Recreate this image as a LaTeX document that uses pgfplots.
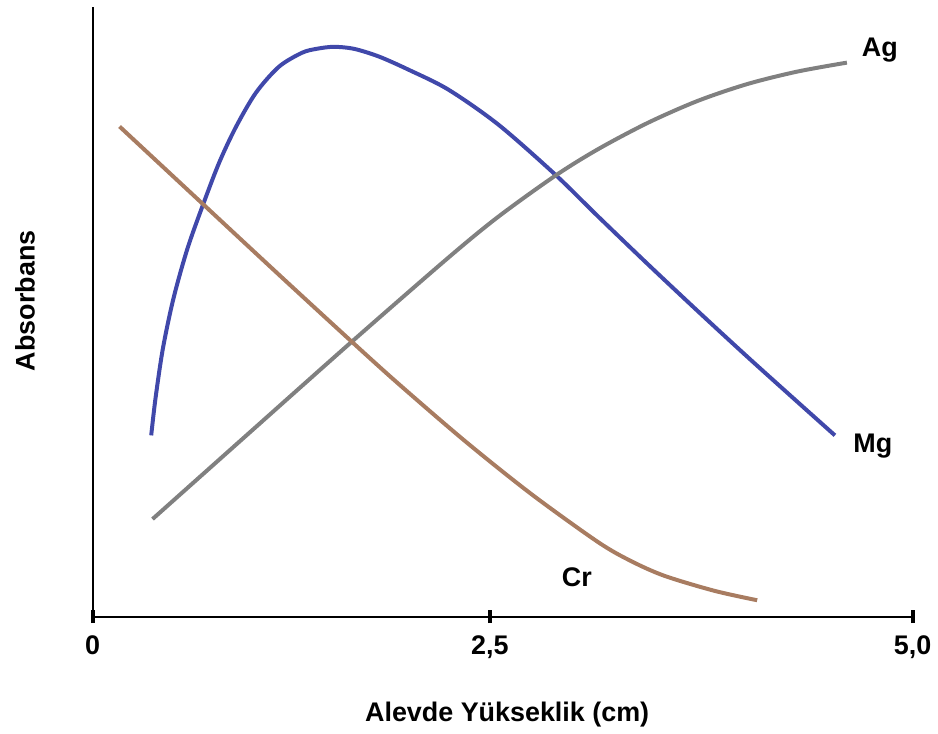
\documentclass[border=0pt]{standalone}
\usepackage{fontspec}
\setmainfont{Liberation Sans}
\usepackage{pgfplots}
\pgfplotsset{compat=1.18}
\definecolor{mgblue}{RGB}{64,72,170}
\definecolor{aggray}{RGB}{128,128,128}
\definecolor{crbrown}{RGB}{168,124,97}
\begin{document}
\begin{tikzpicture}
\begin{axis}[
 scale only axis, width=411.5pt, height=306pt,
 xmin=0, xmax=5, ymin=0, ymax=100,
 axis x line=bottom, axis y line=left,
 axis line style={-, line width=1.1pt, black},
 xtick={0,2.422,5}, xticklabels={0,{2,5},{5,0}},
 ytick=\empty,
 tick align=center, major tick length=6.5pt,
 xtick style={line width=2pt, black},
 /pgf/number format/assume math mode=true,
 xticklabel style={font=\fontsize{13.5}{15}\selectfont\bfseries, anchor=base, yshift=-15.9pt},
 xlabel={Alevde Yükseklik (cm)}, ylabel={Absorbans},
 label style={font=\fontsize{13.5}{15}\selectfont\bfseries},
 xlabel style={at={(rel axis cs:0.5055,-0.160)}, anchor=center},
 ylabel style={at={(rel axis cs:-0.0826,0.518)}, anchor=center},
 clip=false,
]
% Mg
\addplot[mgblue, line width=2pt, smooth, tension=0.5] coordinates {
(0.357,29.74) (0.383,35.78) (0.428,43.95) (0.492,52.12) (0.577,60.29) (0.674,67.65)
(0.772,74.51) (0.875,80.39) (0.996,85.95) (1.136,90.20) (1.276,92.48) (1.367,93.14)
(1.470,93.46) (1.592,93.14) (1.744,91.88) (1.926,89.71) (2.169,86.44) (2.473,80.72)
(2.819,72.55) (3.080,65.69) (3.384,57.84) (3.688,50.16) (3.991,42.65) (4.295,35.29)
(4.526,29.74)};
% Ag
\addplot[aggray, line width=2pt, smooth, tension=0.5] coordinates {
(0.365,16.01) (0.972,30.56) (1.580,45.10) (2.169,58.89) (2.473,65.59) (2.819,72.29)
(3.080,76.65) (3.384,80.98) (3.688,84.58) (3.991,87.35) (4.295,89.39) (4.599,90.87)};
% Cr
\addplot[crbrown, line width=2pt, smooth, tension=0.5] coordinates {
(0.164,80.39) (0.668,67.78) (1.136,56.08) (1.580,45.10) (1.865,38.19) (2.272,28.77)
(2.673,20.15) (3.080,12.27) (3.281,9.15) (3.487,6.70) (3.791,4.25) (4.052,2.70)};
\node[font=\fontsize{13.5}{15}\selectfont\bfseries] at (axis cs:4.80,93.0) {Ag};
\node[font=\fontsize{13.5}{15}\selectfont\bfseries] at (axis cs:4.757,28.0) {Mg};
\node[font=\fontsize{13.5}{15}\selectfont\bfseries] at (axis cs:2.952,6.5) {Cr};
\path (rel axis cs:-0.1130,-0.1863) rectangle (rel axis cs:1.0267,1.0114);
\end{axis}
\end{tikzpicture}
\end{document}
